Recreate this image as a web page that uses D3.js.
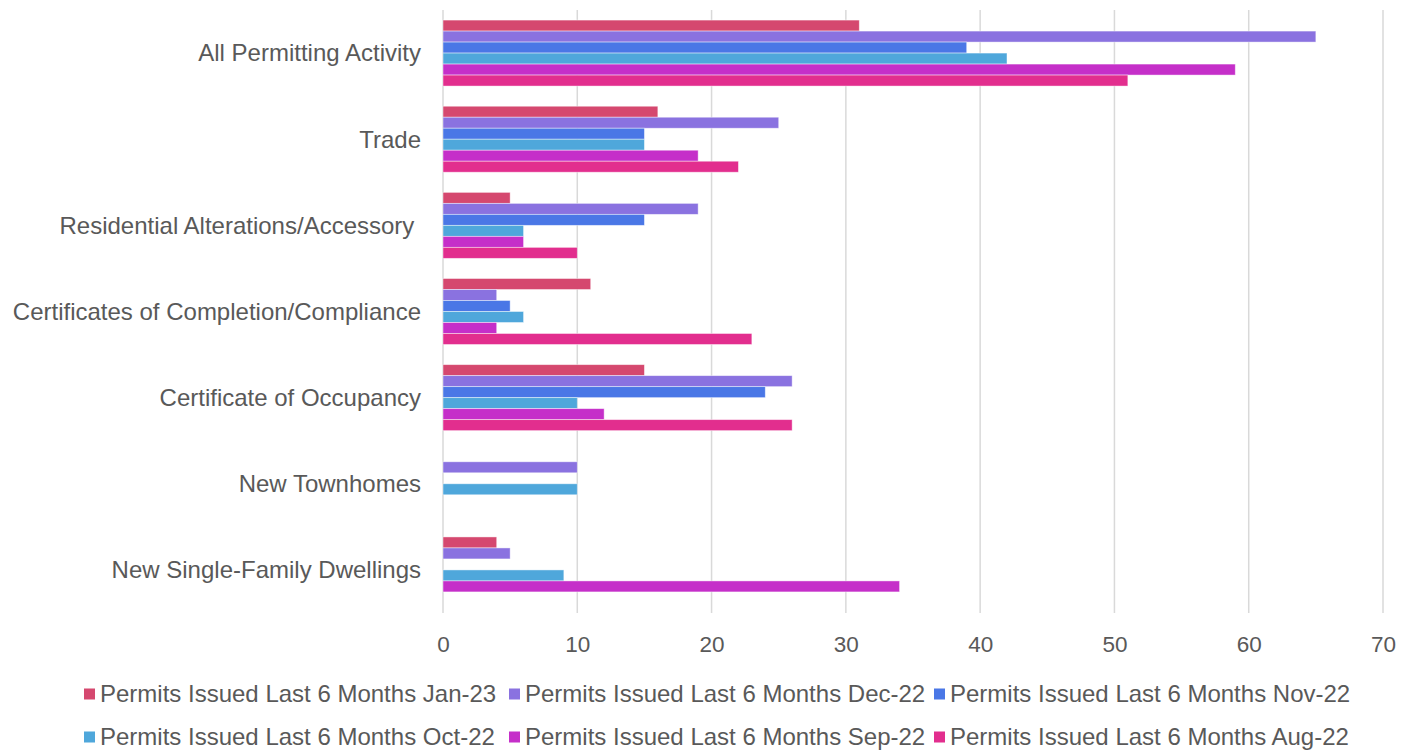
<!DOCTYPE html>
<html>
<head>
<meta charset="utf-8">
<script src="https://cdn.jsdelivr.net/npm/d3@7"></script>
<style>
  body { margin: 0; background: #fff; }
  svg { display: block; font-family: "Liberation Sans", Arial, sans-serif; }
</style>
</head>
<body>
<div id="chart"></div>
<script>
// categories, top to bottom
var categories = [
  "All Permitting Activity",
  "Trade",
  "Residential Alterations/Accessory ",
  "Certificates of Completion/Compliance",
  "Certificate of Occupancy",
  "New Townhomes",
  "New Single-Family Dwellings"
];

var seriesNames = [
  "Permits Issued Last 6 Months Jan-23",
  "Permits Issued Last 6 Months Dec-22",
  "Permits Issued Last 6 Months Nov-22",
  "Permits Issued Last 6 Months Oct-22",
  "Permits Issued Last 6 Months Sep-22",
  "Permits Issued Last 6 Months Aug-22"
];

// values per series, in category order
var jan23 = [31, 16, 5, 11, 15, 0, 4];
var dec22 = [65, 25, 19, 4, 26, 10, 5];
var nov22 = [39, 15, 15, 5, 24, 0, 0];
var oct22 = [42, 15, 6, 6, 10, 10, 9];
var sep22 = [59, 19, 6, 4, 12, 0, 34];
var aug22 = [51, 22, 10, 23, 26, 0, 0];

var xTicks = [0, 10, 20, 30, 40, 50, 60, 70];

var colors = ["#d5486f", "#8a72e0", "#4a77e6", "#4fa7db", "#c52fc9", "#e22e8e"];

var seriesValues = [jan23, dec22, nov22, oct22, sep22, aug22];

var W = 1418, H = 751;
var margin = {top: 10, right: 35, bottom: 138, left: 443};
var width = W - margin.left - margin.right,
    height = H - margin.top - margin.bottom;

var svg = d3.select("#chart")
  .append("svg")
    .attr("width", W)
    .attr("height", H);

var g = svg.append("g")
  .attr("transform", "translate(" + margin.left + "," + margin.top + ")");

var x = d3.scaleLinear()
  .domain([0, 70])
  .range([0, width]);

var y0 = d3.scaleBand()
  .domain(categories)
  .range([0, height])
  .paddingInner(0.234)
  .paddingOuter(0.117);

var y1 = d3.scaleBand()
  .domain(seriesNames)
  .range([0, y0.bandwidth()]);

// gridlines
g.append("g")
  .selectAll("line")
  .data(xTicks)
  .enter()
  .append("line")
    .attr("x1", function(d) { return x(d); })
    .attr("x2", function(d) { return x(d); })
    .attr("y1", 0)
    .attr("y2", height)
    .attr("stroke", "#d9d9d9")
    .attr("stroke-width", 1.5);

// x axis labels
var xAxis = g.append("g")
  .attr("transform", "translate(0," + height + ")")
  .call(d3.axisBottom(x).tickValues(xTicks).tickSize(0).tickPadding(23));
xAxis.select(".domain").remove();
xAxis.selectAll("text")
  .attr("font-size", 22.5)
  .attr("fill", "#595959")
  .attr("font-family", "Liberation Sans, Arial, sans-serif");

// y axis labels
var yAxis = g.append("g")
  .call(d3.axisLeft(y0).tickSize(0).tickPadding(22));
yAxis.select(".domain").remove();
yAxis.selectAll("text")
  .attr("font-size", 24)
  .attr("dy", "0.35em")
  .attr("fill", "#595959")
  .attr("font-family", "Liberation Sans, Arial, sans-serif")
  .style("white-space", "pre");

// bars
var rows = [];
seriesNames.forEach(function(s, si) {
  categories.forEach(function(c, ci) {
    rows.push({series: s, cat: c, value: seriesValues[si][ci], color: colors[si]});
  });
});

g.append("g")
  .selectAll("rect")
  .data(rows.filter(function(d) { return d.value > 0; }))
  .enter()
  .append("rect")
    .attr("x", x(0))
    .attr("y", function(d) { return y0(d.cat) + y1(d.series); })
    .attr("width", function(d) { return x(d.value) - x(0); })
    .attr("height", y1.bandwidth())
    .attr("fill", function(d) { return d.color; })
    .attr("stroke", "#ffffff")
    .attr("stroke-opacity", 0.55)
    .attr("stroke-width", 0.8);

// legend, two rows of three
var legendX = [84, 509, 934];
var legendY = [694, 737];
var legend = svg.append("g")
  .selectAll("g")
  .data(seriesNames)
  .enter()
  .append("g")
    .attr("transform", function(d, i) {
      return "translate(" + legendX[i % 3] + "," + legendY[Math.floor(i / 3)] + ")";
    });

legend.append("rect")
  .attr("x", 0)
  .attr("y", -5.5)
  .attr("width", 11)
  .attr("height", 11)
  .attr("fill", function(d, i) { return colors[i]; });

legend.append("text")
  .attr("x", 16)
  .attr("y", 0)
  .attr("dy", "0.35em")
  .attr("font-size", 24)
  .attr("fill", "#595959")
  .text(function(d) { return d; });
</script>
</body>
</html>
